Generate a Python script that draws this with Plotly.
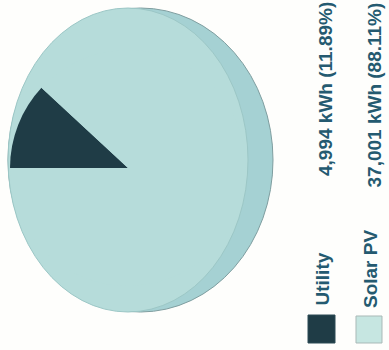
import plotly.graph_objects as go

categories = ["Utility", "Solar PV"]
energy_kwh = [4994, 37001]
share_pct = [11.89, 88.11]
value_labels = ["4,994 kWh (11.89%)", "37,001 kWh (88.11%)"]

W, H = 389, 350
slice_colors = ["#1f3c46", "#b6dcda"]
text_color = "#245a70"

def px(x):
    return x / W

def py(y):
    return 1 - y / H

fig = go.Figure()
fig.add_trace(go.Pie(
    labels=categories,
    values=energy_kwh,
    sort=False,
    direction="clockwise",
    rotation=270,
    marker=dict(colors=slice_colors, line=dict(width=0)),
    textinfo="none",
    hoverinfo="label+value+percent",
    showlegend=False,
    domain=dict(x=[px(10), px(246)], y=[py(286), py(50)]),
))

shapes = [
    # side of the 3D disc
    dict(type="circle", xref="paper", yref="paper", layer="below",
         x0=px(8), x1=px(273), y0=py(312), y1=py(8),
         fillcolor="#a5d1d3", line=dict(color="#7f9ea0", width=1)),
    # top face
    dict(type="circle", xref="paper", yref="paper", layer="below",
         x0=px(8), x1=px(248), y0=py(312), y1=py(8),
         fillcolor=slice_colors[1], line=dict(color="#9cc7c6", width=1)),
    # legend swatches
    dict(type="rect", xref="paper", yref="paper",
         x0=px(308), x1=px(335), y0=py(343), y1=py(315),
         fillcolor=slice_colors[0], line=dict(color="#2c4a55", width=1)),
    dict(type="rect", xref="paper", yref="paper",
         x0=px(356), x1=px(382), y0=py(343), y1=py(316),
         fillcolor="#c6e6e1", line=dict(color="#a9b9b7", width=1)),
]

label_font = dict(family="Liberation Sans", size=19, color=text_color)
annotations = []
label_x = [322, 370]
value_x = [325, 374]
label_bottom = [308, 310]
value_bottom = [178, 190]
for i, cat in enumerate(categories):
    annotations.append(dict(
        text="<b>%s</b>" % cat, textangle=-90, showarrow=False,
        xref="paper", yref="paper", x=px(label_x[i]), y=py(label_bottom[i]),
        xanchor="center", yanchor="bottom", font=label_font))
    annotations.append(dict(
        text="<b>%s</b>" % value_labels[i], textangle=-90, showarrow=False,
        xref="paper", yref="paper", x=px(value_x[i]), y=py(value_bottom[i]),
        xanchor="center", yanchor="bottom", font=label_font))

fig.update_layout(
    width=W, height=H,
    margin=dict(l=0, r=0, t=0, b=0),
    paper_bgcolor="#fefefc",
    plot_bgcolor="#fefefc",
    shapes=shapes,
    annotations=annotations,
    showlegend=False,
)

fig.write_html("out.html")
